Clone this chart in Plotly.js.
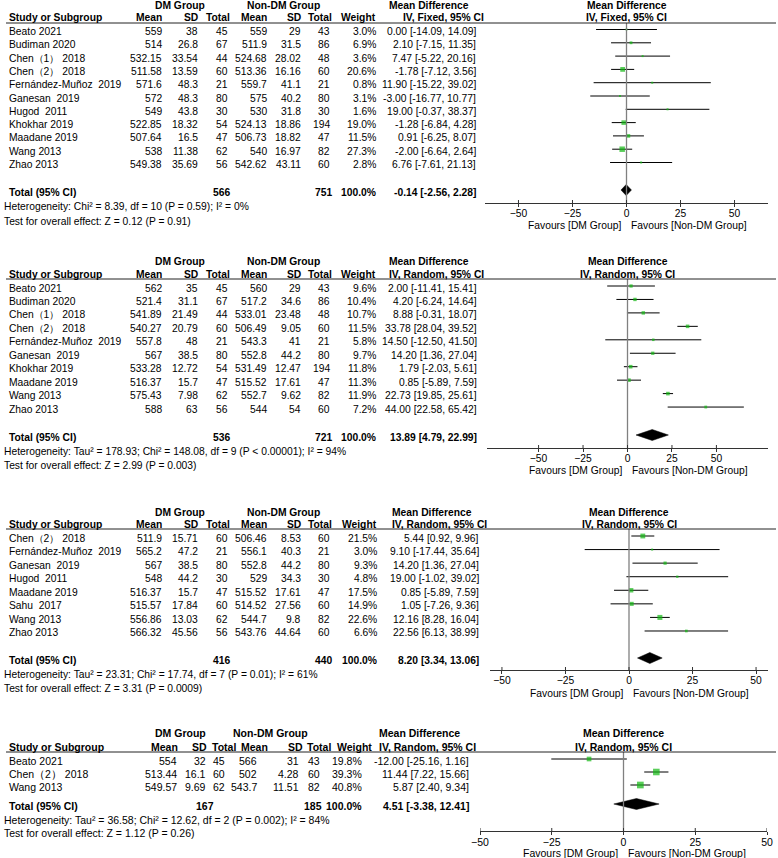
<!DOCTYPE html>
<html><head><meta charset="utf-8">
<script src="https://cdn.plot.ly/plotly-3.0.1.min.js"></script>
<style>html,body{margin:0;padding:0;background:#fff}</style>
</head><body><div id="chart" style="width:778px;height:858px"></div>
<script>
// ---------- Panel 1 (IV, Fixed) ----------
const studies1 = ["Beato 2021","Budiman 2020","Chen（1） 2018","Chen（2） 2018","Fernández-Muñoz\u00a0 2019","Ganesan\u00a0 2019","Hugod\u00a0 2011","Khokhar 2019","Maadane 2019","Wang 2013","Zhao 2013"];
const dmMean1 = [559, 514, 532.15, 511.58, 571.6, 572, 549, 522.85, 507.64, 538, 549.38];
const dmSD1 = [38, 26.8, 33.54, 13.59, 48.3, 48.3, 43.8, 18.32, 16.5, 11.38, 35.69];
const dmN1 = [45, 67, 44, 60, 21, 80, 30, 54, 47, 62, 56];
const nonMean1 = [559, 511.9, 524.68, 513.36, 559.7, 575, 530, 524.13, 506.73, 540, 542.62];
const nonSD1 = [29, 31.5, 28.02, 16.16, 41.1, 40.2, 31.8, 18.86, 18.82, 16.97, 43.11];
const nonN1 = [43, 86, 48, 60, 21, 80, 30, 194, 47, 82, 60];
const weight1 = [3.0, 6.9, 3.6, 20.6, 0.8, 3.1, 1.6, 19.0, 11.5, 27.3, 2.8];
const md1 = [0.00, 2.10, 7.47, -1.78, 11.90, -3.00, 19.00, -1.28, 0.91, -2.00, 6.76];
const lo1 = [-14.09, -7.15, -5.22, -7.12, -15.22, -16.77, -0.37, -6.84, -6.25, -6.64, -7.61];
const hi1 = [14.09, 11.35, 20.16, 3.56, 39.02, 10.77, 38.37, 4.28, 8.07, 2.64, 21.13];
const totalN1 = [566, 751];
const totalMD1 = [-0.14, -2.56, 2.28];
const method1 = "IV, Fixed, 95% CI";
const het1 = "Heterogeneity: Chi² = 8.39, df = 10 (P = 0.59); I² = 0%";
const test1 = "Test for overall effect: Z = 0.12 (P = 0.91)";

// ---------- Panel 2 (IV, Random) ----------
const studies2 = ["Beato 2021","Budiman 2020","Chen（1） 2018","Chen（2） 2018","Fernández-Muñoz\u00a0 2019","Ganesan\u00a0 2019","Khokhar 2019","Maadane 2019","Wang 2013","Zhao 2013"];
const dmMean2 = [562, 521.4, 541.89, 540.27, 557.8, 567, 533.28, 516.37, 575.43, 588];
const dmSD2 = [35, 31.1, 21.49, 20.79, 48, 38.5, 12.72, 15.7, 7.98, 63];
const dmN2 = [45, 67, 44, 60, 21, 80, 54, 47, 62, 56];
const nonMean2 = [560, 517.2, 533.01, 506.49, 543.3, 552.8, 531.49, 515.52, 552.7, 544];
const nonSD2 = [29, 34.6, 23.48, 9.05, 41, 44.2, 12.47, 17.61, 9.62, 54];
const nonN2 = [43, 86, 48, 60, 21, 80, 194, 47, 82, 60];
const weight2 = [9.6, 10.4, 10.7, 11.5, 5.8, 9.7, 11.8, 11.3, 11.9, 7.2];
const md2 = [2.00, 4.20, 8.88, 33.78, 14.50, 14.20, 1.79, 0.85, 22.73, 44.00];
const lo2 = [-11.41, -6.24, -0.31, 28.04, -12.50, 1.36, -2.03, -5.89, 19.85, 22.58];
const hi2 = [15.41, 14.64, 18.07, 39.52, 41.50, 27.04, 5.61, 7.59, 25.61, 65.42];
const totalN2 = [536, 721];
const totalMD2 = [13.89, 4.79, 22.99];
const method2 = "IV, Random, 95% CI";
const het2 = "Heterogeneity: Tau² = 178.93; Chi² = 148.08, df = 9 (P < 0.00001); I² = 94%";
const test2 = "Test for overall effect: Z = 2.99 (P = 0.003)";

// ---------- Panel 3 (IV, Random) ----------
const studies3 = ["Chen（2） 2018","Fernández-Muñoz\u00a0 2019","Ganesan\u00a0 2019","Hugod\u00a0 2011","Maadane 2019","Sahu\u00a0 2017","Wang 2013","Zhao 2013"];
const dmMean3 = [511.9, 565.2, 567, 548, 516.37, 515.57, 556.86, 566.32];
const dmSD3 = [15.71, 47.2, 38.5, 44.2, 15.7, 17.84, 13.03, 45.56];
const dmN3 = [60, 21, 80, 30, 47, 60, 62, 56];
const nonMean3 = [506.46, 556.1, 552.8, 529, 515.52, 514.52, 544.7, 543.76];
const nonSD3 = [8.53, 40.3, 44.2, 34.3, 17.61, 27.56, 9.8, 44.64];
const nonN3 = [60, 21, 80, 30, 47, 60, 82, 60];
const weight3 = [21.5, 3.0, 9.3, 4.8, 17.5, 14.9, 22.6, 6.6];
const md3 = [5.44, 9.10, 14.20, 19.00, 0.85, 1.05, 12.16, 22.56];
const lo3 = [0.92, -17.44, 1.36, -1.02, -5.89, -7.26, 8.28, 6.13];
const hi3 = [9.96, 35.64, 27.04, 39.02, 7.59, 9.36, 16.04, 38.99];
const totalN3 = [416, 440];
const totalMD3 = [8.20, 3.34, 13.06];
const method3 = "IV, Random, 95% CI";
const het3 = "Heterogeneity: Tau² = 23.31; Chi² = 17.74, df = 7 (P = 0.01); I² = 61%";
const test3 = "Test for overall effect: Z = 3.31 (P = 0.0009)";

// ---------- Panel 4 (IV, Random) ----------
const studies4 = ["Beato 2021","Chen（2） 2018","Wang 2013"];
const dmMean4 = [554, 513.44, 549.57];
const dmSD4 = [32, 16.1, 9.69];
const dmN4 = [45, 60, 62];
const nonMean4 = [566, 502, 543.7];
const nonSD4 = [31, 4.28, 11.51];
const nonN4 = [43, 60, 82];
const weight4 = [19.8, 39.3, 40.8];
const md4 = [-12.00, 11.44, 5.87];
const lo4 = [-25.16, 7.22, 2.40];
const hi4 = [1.16, 15.66, 9.34];
const totalN4 = [167, 185];
const totalMD4 = [4.51, -3.38, 12.41];
const method4 = "IV, Random, 95% CI";
const het4 = "Heterogeneity: Tau² = 36.58; Chi² = 12.62, df = 2 (P = 0.002); I² = 84%";
const test4 = "Test for overall effect: Z = 1.12 (P = 0.26)";

const tickVals = [-50, -25, 0, 25, 50];
const colHeaders = ["Mean","SD","Total","Mean","SD","Total","Weight"];
const groupHeaders = ["DM Group","Non-DM Group"];
const favours = ["Favours [DM Group]","Favours [Non-DM Group]"];

// ---------- layout geometry (pixels) ----------
const W = 778, H = 858;
const FONT = '"Liberation Sans", Arial, sans-serif';
const GREEN = '#12b812';

const data = [
  {studies:studies1, dmMean:dmMean1, dmSD:dmSD1, dmN:dmN1, nMean:nonMean1, nSD:nonSD1, nN:nonN1, w:weight1, md:md1, lo:lo1, hi:hi1, totN:totalN1, totMD:totalMD1, method:method1, het:het1, test:test1},
  {studies:studies2, dmMean:dmMean2, dmSD:dmSD2, dmN:dmN2, nMean:nonMean2, nSD:nonSD2, nN:nonN2, w:weight2, md:md2, lo:lo2, hi:hi2, totN:totalN2, totMD:totalMD2, method:method2, het:het2, test:test2},
  {studies:studies3, dmMean:dmMean3, dmSD:dmSD3, dmN:dmN3, nMean:nonMean3, nSD:nonSD3, nN:nonN3, w:weight3, md:md3, lo:lo3, hi:hi3, totN:totalN3, totMD:totalMD3, method:method3, het:het3, test:test3},
  {studies:studies4, dmMean:dmMean4, dmSD:dmSD4, dmN:dmN4, nMean:nonMean4, nSD:nonSD4, nN:nonN4, w:weight4, md:md4, lo:lo4, hi:hi4, totN:totalN4, totMD:totalMD4, method:method4, het:het4, test:test4}
];

// c: value right edges, hc: header right edges, tc: totals right edges [dmN, nonN, weight]
const geo = [
  {fs:10.3, top:0, bottom:232, grp:5, col:17.5, line:23, row0:31.5, step:13.3, total:192, het:206.5, test:221, axis:203, fav:225.5, xl:485, xr:768, range:[-65.5,65.5],
   c:[163,199,229,268,302,331,377], hc:[163,199,231,268,302,333,377], tc:[231,333,377], mdR:477, mdL1:388, mdL2:402, grpC:[180,283]},
  {fs:10.3, top:240, bottom:476, grp:261, col:274, line:279, row0:288, step:13.45, total:437, het:451, test:465, axis:448, fav:470.5, xl:487, xr:768, range:[-79,79],
   c:[163,199,229,268,302,331,377], hc:[163,199,231,268,302,333,377], tc:[231,333,377], mdR:478, mdL1:388, mdL2:388, grpC:[180,283]},
  {fs:10.3, top:490, bottom:700, grp:512, col:524, line:529, row0:538, step:13.57, total:660, het:674, test:688, axis:670, fav:693.5, xl:490, xr:768, range:[-54.7,54.7],
   c:[163,199,229,268,302,331,378], hc:[163,199,231,268,302,333,378], tc:[231,333,378], mdR:480, mdL1:391, mdL2:391, grpC:[180,283]},
  {fs:10.5, top:712, bottom:858, grp:733, col:747, line:752, row0:761, step:13, total:806, het:819.5, test:833, axis:831, fav:852.5, xl:480, xr:767, range:[-50,50],
   c:[178,207,226,258,300,321,363], hc:[179,208,237,269,304,332,373], tc:[215,323,363], mdR:470, mdL1:378, mdL2:378, grpC:[180,270]}
];

const traces = [], annotations = [], shapes = [];
const layout = {
  width: W, height: H, margin:{l:0,r:0,t:0,b:0}, paper_bgcolor:'#fff', plot_bgcolor:'rgba(0,0,0,0)',
  showlegend:false, font:{family:FONT, size:10.3, color:'#000'}
};

const f2 = v => v.toFixed(2);

data.forEach((d, i) => {
  const g = geo[i];
  const s = i === 0 ? '' : String(i+1);
  const xa = 'x'+s, ya = 'y'+s;
  const rows = d.studies.map((_, k) => g.row0 + k*g.step);
  const fnt = {family:FONT, size:g.fs, color:'#000'};
  const ann = (x, y, text, xanchor, bold) => ({xref:'paper', x:x/W, yref:ya, y:y,
    text: bold ? '<b>'+text+'</b>' : text, xanchor:xanchor, yanchor:'middle', showarrow:false, borderpad:0, font:fnt});
  const annX = (y, text, xanchor, xshift, bold) => ({xref:xa, x:0, yref:ya, y:y,
    text: bold ? '<b>'+text+'</b>' : text, xanchor:xanchor, xshift:xshift, yanchor:'middle', showarrow:false, borderpad:0, font:fnt});

  layout['yaxis'+s] = {domain:[1-g.bottom/H, 1-g.top/H], range:[g.bottom, g.top], visible:false, fixedrange:true};
  layout['xaxis'+s] = {domain:[g.xl/W, g.xr/W], range:g.range, anchor:'free', position:1-g.axis/H,
    showline:true, linecolor:'#333', linewidth:1, ticks:'outside', ticklen:3, tickwidth:1, tickcolor:'#333',
    ticklabelstandoff:-2,
    tickvals:tickVals, showgrid:false, zeroline:false, fixedrange:true, tickfont:fnt};

  // study estimates with CI
  traces.push({type:'scatter', mode:'markers', xaxis:xa, yaxis:ya,
    x:d.md, y:rows.map(r => r-2),
    error_x:{type:'data', symmetric:false, array:d.hi.map((h,k)=>h-d.md[k]), arrayminus:d.lo.map((l,k)=>d.md[k]-l),
      width:0, thickness:1, color:'#000'},
    marker:{symbol:'square', color:GREEN, size:d.w.map(w=>Math.max(2, Math.sqrt(w)*1.05)), line:{width:0}},
    hoverinfo:'skip'});
  // pooled diamond
  const ty = g.total - 2, hh = 5.5;
  traces.push({type:'scatter', mode:'lines', xaxis:xa, yaxis:ya,
    x:[d.totMD[1], d.totMD[0], d.totMD[2], d.totMD[0], d.totMD[1]],
    y:[ty, ty-hh, ty, ty+hh, ty], fill:'toself', fillcolor:'#000', line:{color:'#000', width:0.5}, hoverinfo:'skip'});

  // zero line, header rule, upper half of tick marks
  shapes.push({type:'line', xref:xa, yref:ya, x0:0, x1:0, y0:g.line, y1:g.axis, line:{color:'#808080', width:1.3}});
  shapes.push({type:'line', xref:'paper', yref:ya, x0:6/W, x1:776/W, y0:g.line, y1:g.line, line:{color:'#222', width:1}});
  tickVals.forEach(t => shapes.push({type:'line', xref:xa, yref:ya, x0:t, x1:t, y0:g.axis-3, y1:g.axis, line:{color:'#333', width:1}}));

  // group headers
  annotations.push(ann(g.grpC[0], g.grp, groupHeaders[0], 'center', true));
  annotations.push(ann(g.grpC[1], g.grp, groupHeaders[1], 'center', true));
  annotations.push(ann(g.mdL1, g.grp, 'Mean Difference', 'left', true));
  annotations.push(annX(g.grp, 'Mean Difference', 'center', 0, true));
  // column headers
  annotations.push(ann(8, g.col, 'Study or Subgroup', 'left', true));
  colHeaders.forEach((h, k) => annotations.push(ann(g.hc[k], g.col, h, 'right', true)));
  annotations.push(ann(g.mdL2, g.col, d.method, 'left', true));
  annotations.push(annX(g.col, d.method, 'center', 0, true));

  // study rows
  d.studies.forEach((st, k) => {
    const y = rows[k];
    annotations.push(ann(8, y, st, 'left', false));
    const vals = [String(d.dmMean[k]), String(d.dmSD[k]), String(d.dmN[k]), String(d.nMean[k]), String(d.nSD[k]), String(d.nN[k]), d.w[k].toFixed(1)+'%'];
    vals.forEach((v, c) => annotations.push(ann(g.c[c], y, v, 'right', false)));
    annotations.push(ann(g.mdR, y, f2(d.md[k])+' ['+f2(d.lo[k])+', '+f2(d.hi[k])+']', 'right', false));
  });

  // total row
  annotations.push(ann(8, g.total, 'Total (95% CI)', 'left', true));
  annotations.push(ann(g.tc[0], g.total, String(d.totN[0]), 'right', true));
  annotations.push(ann(g.tc[1], g.total, String(d.totN[1]), 'right', true));
  annotations.push(ann(g.tc[2], g.total, '100.0%', 'right', true));
  annotations.push(ann(g.mdR, g.total, f2(d.totMD[0])+' ['+f2(d.totMD[1])+', '+f2(d.totMD[2])+']', 'right', true));
  annotations.push(ann(3, g.het, d.het, 'left', false));
  annotations.push(ann(3, g.test, d.test, 'left', false));

  // favours labels
  annotations.push(annX(g.fav, favours[0], 'right', -5, false));
  annotations.push(annX(g.fav, favours[1], 'left', 3, false));
});

layout.annotations = annotations;
layout.shapes = shapes;
Plotly.newPlot('chart', traces, layout, {staticPlot:true, displayModeBar:false});
</script></body></html>
